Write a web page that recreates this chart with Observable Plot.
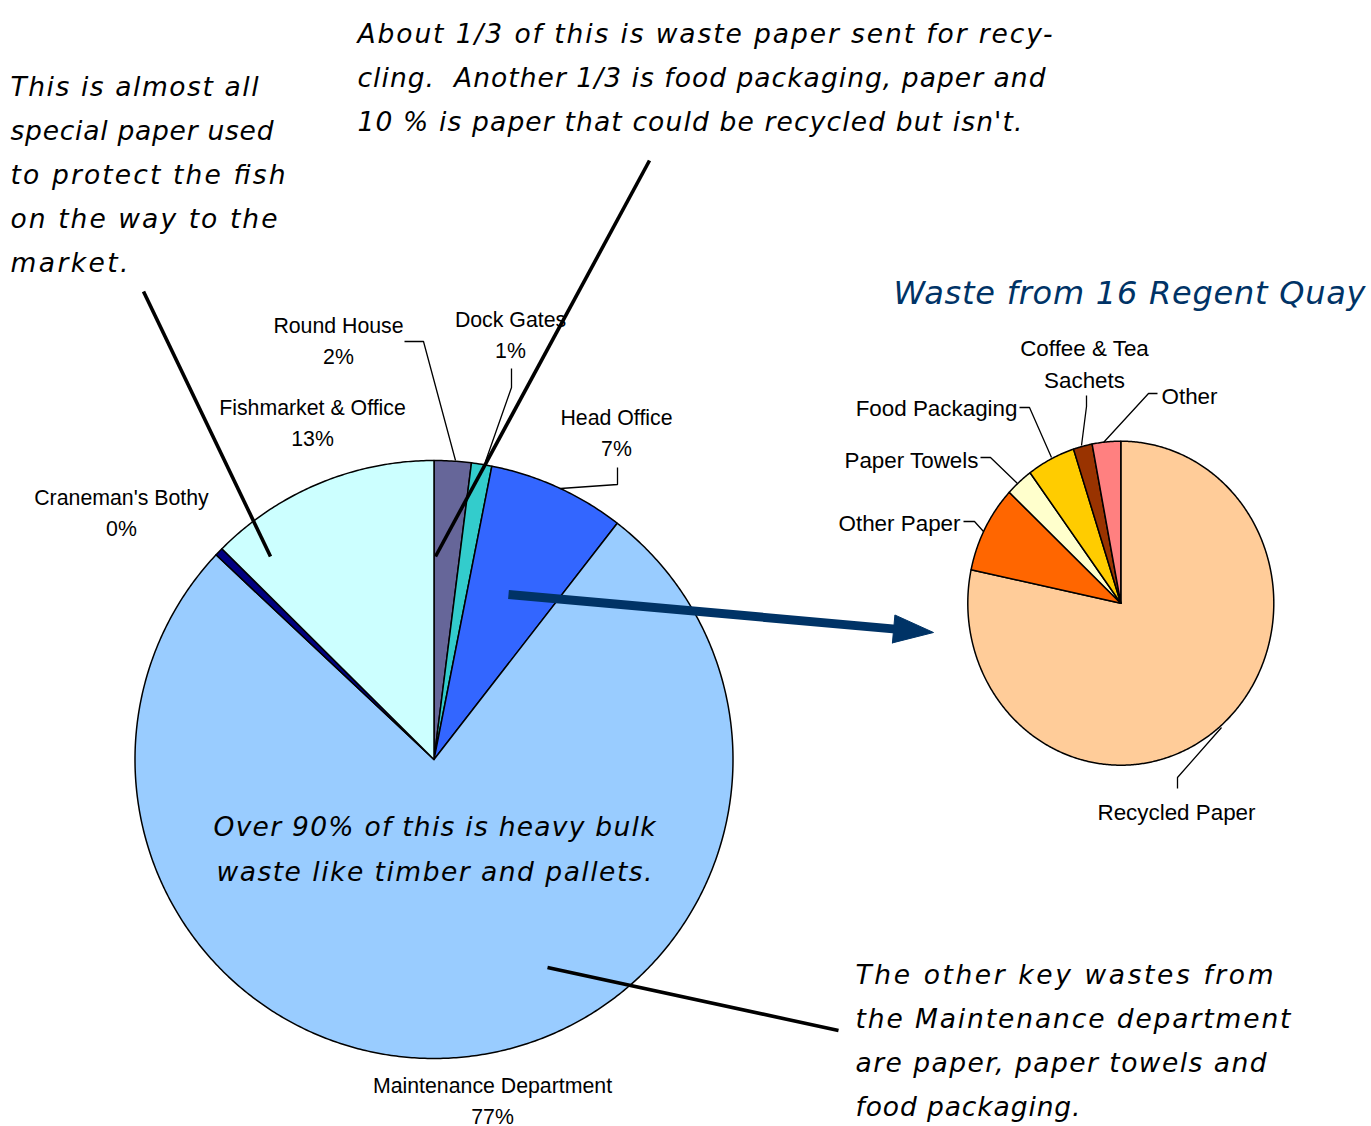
<!DOCTYPE html>
<html><head><meta charset="utf-8">
<script src="https://cdn.jsdelivr.net/npm/d3@7"></script>
<script src="https://cdn.jsdelivr.net/npm/@observablehq/plot@0.6"></script>
<style>body{margin:0;background:#fff}#chart svg{display:block}</style>
</head><body><div id="chart"></div>
<script>
// ---------- data ----------
const siteNames = ["Round House", "Dock Gates", "Head Office", "Maintenance Department", "Craneman's Bothy", "Fishmarket & Office"];
const siteShares = [2.0, 1.1, 7.4, 76.5, 0.45, 12.55];
const siteColors = ["#666699", "#33CCCC", "#3366FF", "#99CCFF", "#000080", "#CCFFFF"];

const hqNames = ["Recycled Paper", "Other Paper", "Paper Towels", "Food Packaging", "Coffee & Tea\nSachets", "Other"];
const hqShares = [78.3, 8.7, 2.9, 5.1, 2.0, 3.0];
const hqColors = ["#FFCC99", "#FF6600", "#FFFFCC", "#FFCC00", "#993300", "#FF8080"];

const titleText = "Waste from 16 Regent Quay";
const notes = [
  "This is almost all\nspecial paper used\nto protect the fish\non the way to the\nmarket.",
  "About 1/3 of this is waste paper sent for recy-\ncling.  Another 1/3 is food packaging, paper and\n10 % is paper that could be recycled but isn't.",
  "Over 90% of this is heavy bulk\nwaste like timber and pallets.",
  "The other key wastes from\nthe Maintenance department\nare paper, paper towels and\nfood packaging."
];

// ---------- layout ----------
const W = 1371, H = 1126;
const bigPie = {cx: 433.5, cy: 759, rx: 299, ry: 299};
const smallPie = {cx: 1120.3, cy: 602.7, rx: 153, ry: 162};
const siteLabelAt = [[338, 363], [510, 357], [616, 455], [492, 1123], [121, 535], [312, 445]];
const hqLabelAt = [[1176, 819, "middle"], [960, 530, "end"], [978, 467, "end"], [1017, 415, "end"], [1084, 387, "middle"], [1161, 403, "start"]];
const siteLeaders = [
  [[404, 341], [423, 341], [455, 460]],
  [[511, 368], [511, 387], [485, 461]],
  [[617, 467], [617, 484], [560, 488]]
];
const hqLeaders = [
  [[1157, 393], [1148, 393], [1103, 442]],
  [[1086, 395], [1086, 406], [1081, 445]],
  [[1019, 407], [1029, 407], [1051, 457]],
  [[980, 457], [990, 457], [1017, 483]],
  [[963, 521], [974, 521], [983, 531]],
  [[1221, 727], [1177, 777], [1177, 788]]
];
const noteLines = [
  [[143, 291], [270, 556]],
  [[649, 160], [435, 556]],
  [[547, 967], [838, 1030]]
];
// x, first baseline, line gap, anchor, width of each line
const noteAt = [
  [10, 95, 44, "start", [248, 263, 275, 267, 118]],
  [357, 42, 44, "start", [695, 688, 665]],
  [434, 835, 45, "middle", [442, 436]],
  [855, 983, 44, "start", [418, 435, 411, 225]]
];
const titleAt = [893, 303, 472];
const arrowFrom = [508, 594], arrowTo = [933, 632];

// ---------- helpers ----------
function pieSlices(names, values, colors, pie, tag) {
  const total = d3.sum(values);
  const rows = [];
  let a0 = 0;
  names.forEach((n, i) => {
    const a1 = a0 + values[i] / total * 2 * Math.PI;
    const key = tag + i;
    rows.push({key, x: pie.cx, y: pie.cy, color: colors[i]});
    const steps = Math.max(2, Math.ceil((a1 - a0) / (Math.PI / 360)));
    for (let k = 0; k <= steps; k++) {
      const a = a0 + (a1 - a0) * k / steps;
      rows.push({key, x: pie.cx + pie.rx * Math.sin(a), y: pie.cy - pie.ry * Math.cos(a), color: colors[i]});
    }
    rows.push({key, x: pie.cx, y: pie.cy, color: colors[i]});
    a0 = a1;
  });
  return rows;
}
function polylines(list, tag) {
  return list.flatMap((pts, i) => pts.map(([x, y]) => ({key: tag + i, x, y})));
}
const pct = v => `${Math.round(v)}%`;

const siteRows = pieSlices(siteNames, siteShares, siteColors, bigPie, "s");
const hqRows = pieSlices(hqNames, hqShares, hqColors, smallPie, "h");
const siteLabels = siteNames.map((n, i) => ({text: `${n}\n${pct(siteShares[i])}`, x: siteLabelAt[i][0], y: siteLabelAt[i][1]}));
const hqLabels = hqNames.map((n, i) => ({text: n, x: hqLabelAt[i][0], y: hqLabelAt[i][1], anchor: hqLabelAt[i][2]}));
const noteRows = notes.flatMap((t, i) => {
  const [x, y0, gap, anchor, widths] = noteAt[i];
  return t.split("\n").map((line, k) => ({text: line, x, y: y0 + k * gap, anchor, width: widths[k]}));
});
const noteStart = noteRows.filter(d => d.anchor === "start");
const noteMiddle = noteRows.filter(d => d.anchor === "middle");

// arrow geometry
const adx = arrowTo[0] - arrowFrom[0], ady = arrowTo[1] - arrowFrom[1];
const alen = Math.hypot(adx, ady), ux = adx / alen, uy = ady / alen;
const headLen = 40, headHalf = 14;
const base = [arrowTo[0] - ux * headLen, arrowTo[1] - uy * headLen];
const shaft = [{x: arrowFrom[0], y: arrowFrom[1]}, {x: base[0] + ux * 2, y: base[1] + uy * 2}];
const head = [
  {x: base[0] - uy * headHalf, y: base[1] + ux * headHalf},
  {x: arrowTo[0], y: arrowTo[1]},
  {x: base[0] + uy * headHalf, y: base[1] - ux * headHalf},
  {x: base[0] - uy * headHalf, y: base[1] + ux * headHalf}
];

const hand = "DejaVu Sans";
const sans = "Liberation Sans, Arial, sans-serif";

const chart = Plot.plot({
  width: W, height: H, margin: 0,
  x: {domain: [0, W], range: [0, W], axis: null},
  y: {domain: [0, H], range: [0, H], axis: null},
  style: {background: "white", overflow: "visible"},
  marks: [
    Plot.line(siteRows, {x: "x", y: "y", z: "key", fill: "color", stroke: "black", strokeWidth: 1.5, strokeLinejoin: "round", curve: "linear"}),
    Plot.line(hqRows, {x: "x", y: "y", z: "key", fill: "color", stroke: "black", strokeWidth: 1.5, strokeLinejoin: "round", curve: "linear"}),
    Plot.line(polylines(siteLeaders, "sl"), {x: "x", y: "y", z: "key", stroke: "black", strokeWidth: 1.3, strokeLinecap: "butt", strokeLinejoin: "miter"}),
    Plot.line(polylines(hqLeaders, "hl"), {x: "x", y: "y", z: "key", stroke: "black", strokeWidth: 1.3, strokeLinecap: "butt", strokeLinejoin: "miter"}),
    Plot.text(siteLabels, {x: "x", y: "y", text: "text", textAnchor: "middle", lineAnchor: "bottom", lineHeight: 1.41, fontSize: 21.3, fontFamily: sans, fill: "black"}),
    Plot.text(hqLabels.filter(d => d.anchor === "middle"), {x: "x", y: "y", text: "text", textAnchor: "middle", lineAnchor: "bottom", lineHeight: 1.42, fontSize: 22.4, fontFamily: sans, fill: "black"}),
    Plot.text(hqLabels.filter(d => d.anchor === "end"), {x: "x", y: "y", text: "text", textAnchor: "end", lineAnchor: "bottom", fontSize: 22.4, fontFamily: sans, fill: "black"}),
    Plot.text(hqLabels.filter(d => d.anchor === "start"), {x: "x", y: "y", text: "text", textAnchor: "start", lineAnchor: "bottom", fontSize: 22.4, fontFamily: sans, fill: "black"}),
    Plot.line(shaft, {x: "x", y: "y", stroke: "#003366", strokeWidth: 9, strokeLinecap: "butt"}),
    Plot.line(head, {x: "x", y: "y", fill: "#003366", stroke: "#003366", strokeWidth: 1}),
    Plot.line(polylines(noteLines, "nl"), {x: "x", y: "y", z: "key", stroke: "black", strokeWidth: 3.6, strokeLinecap: "butt"}),
    Plot.text(noteStart, {x: "x", y: "y", text: "text", textAnchor: "start", lineAnchor: "bottom", fontSize: 26.5, fontFamily: hand, fontStyle: "italic", fill: "black", ariaDescription: "note-start"}),
    Plot.text(noteMiddle, {x: "x", y: "y", text: "text", textAnchor: "middle", lineAnchor: "bottom", fontSize: 26.5, fontFamily: hand, fontStyle: "italic", fill: "black", ariaDescription: "note-middle"}),
    Plot.text([{text: titleText, x: titleAt[0], y: titleAt[1]}], {x: "x", y: "y", text: "text", textAnchor: "start", lineAnchor: "bottom", fontSize: 32, fontFamily: hand, fontStyle: "italic", fill: "#003366", ariaDescription: "title"})
  ]
});
// stretch the hand-written notes to the widths of the original lines
function fitWidths(label, rows) {
  chart.querySelectorAll(`g[aria-description="${label}"] text`).forEach((el, i) => {
    if (rows[i]) { el.setAttribute("textLength", rows[i].width); el.setAttribute("lengthAdjust", "spacing"); }
  });
}
fitWidths("note-start", noteStart);
fitWidths("note-middle", noteMiddle);
fitWidths("title", [{width: titleAt[2]}]);
document.getElementById("chart").appendChild(chart);
</script>
</body></html>
